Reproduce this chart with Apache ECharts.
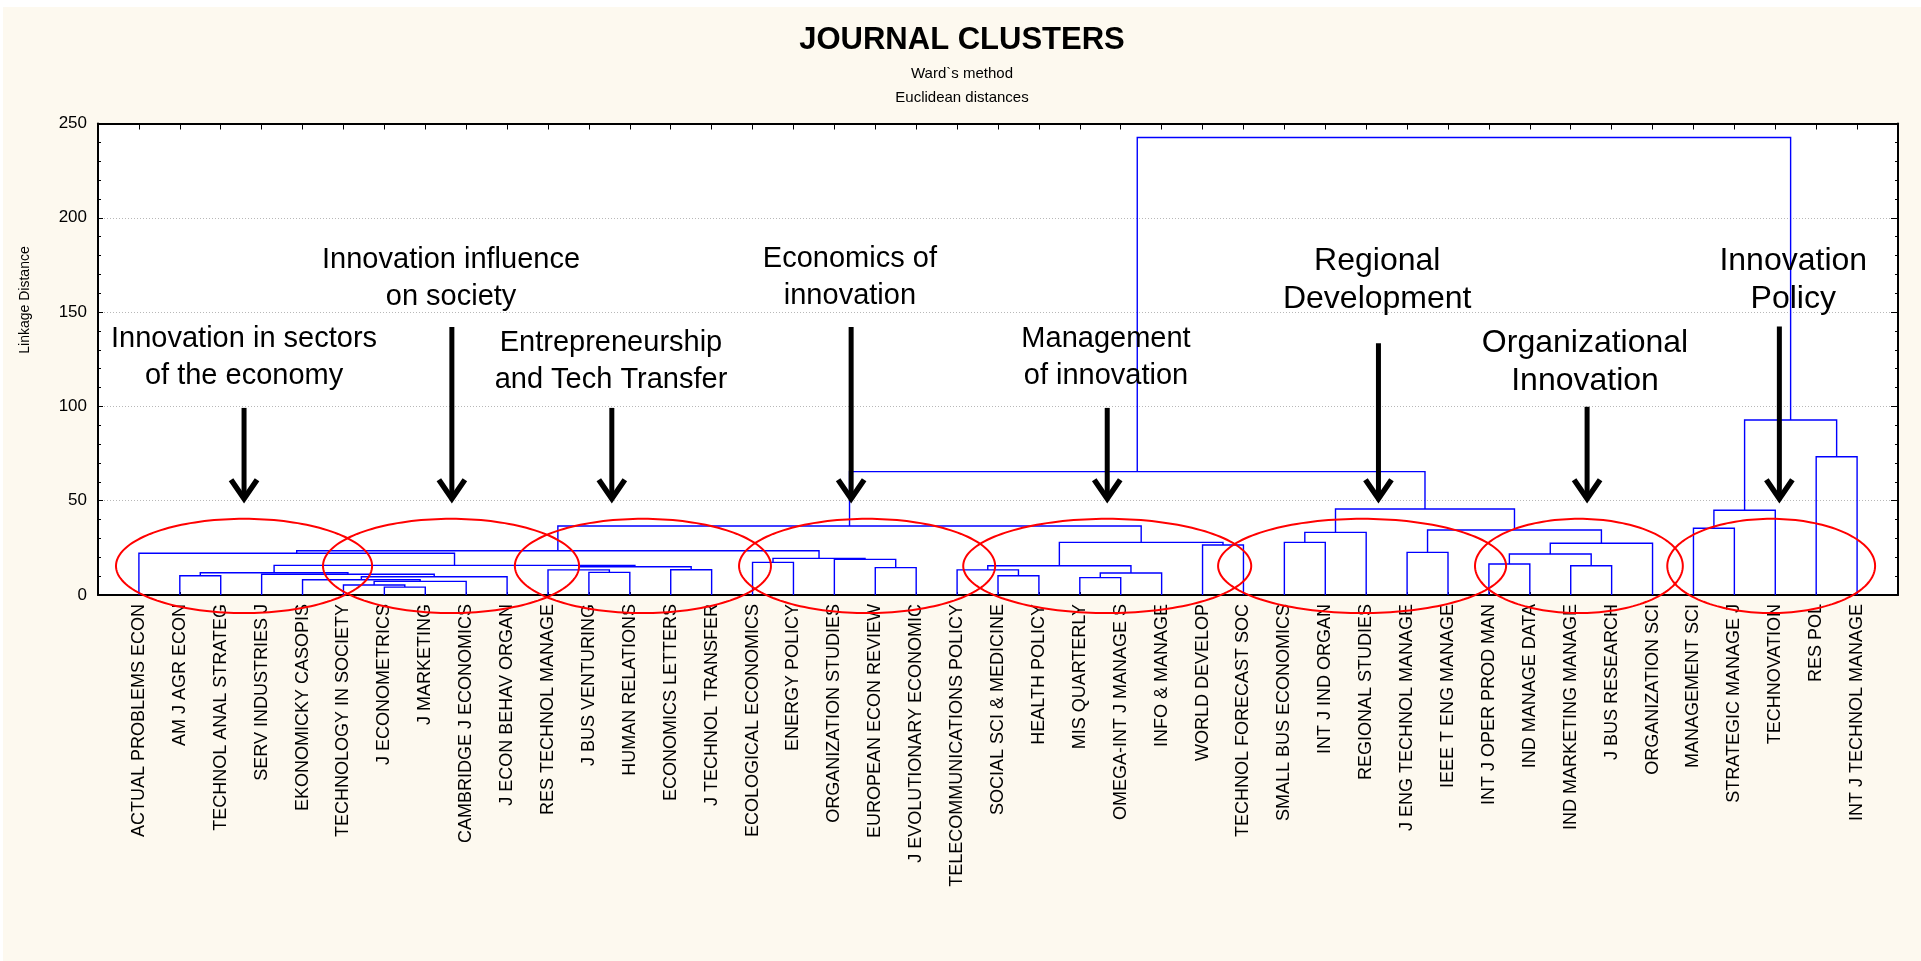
<!DOCTYPE html>
<html>
<head>
<meta charset="utf-8">
<title>Journal clusters</title>
<script src="https://cdn.jsdelivr.net/npm/echarts@6/dist/echarts.min.js"></script>
<style>
  html, body { margin: 0; background: #fff; }
  #main { position: absolute; left: 3px; top: 7px; width: 1918px; height: 954px; background: #fdf9ef; }
</style>
</head>
<body>
<div id="main"></div>
<script>
// journals, in dendrogram leaf order
const leaves = [
  'ACTUAL PROBLEMS ECON', 'AM J AGR ECON', 'TECHNOL ANAL STRATEG', 'SERV INDUSTRIES J',
  'EKONOMICKY CASOPIS', 'TECHNOLOGY IN SOCIETY', 'J ECONOMETRICS', 'J MARKETING',
  'CAMBRIDGE J ECONOMICS', 'J ECON BEHAV ORGAN', 'RES TECHNOL MANAGE', 'J BUS VENTURING',
  'HUMAN RELATIONS', 'ECONOMICS LETTERS', 'J TECHNOL TRANSFER', 'ECOLOGICAL ECONOMICS',
  'ENERGY POLICY', 'ORGANIZATION STUDIES', 'EUROPEAN ECON REVIEW', 'J EVOLUTIONARY ECONOMIC',
  'TELECOMMUNICATIONS POLICY', 'SOCIAL SCI & MEDICINE', 'HEALTH POLICY', 'MIS QUARTERLY',
  'OMEGA-INT J MANAGE S', 'INFO & MANAGE', 'WORLD DEVELOP', 'TECHNOL FORECAST SOC',
  'SMALL BUS ECONOMICS', 'INT J IND ORGAN', 'REGIONAL STUDIES', 'J ENG TECHNOL MANAGE',
  'IEEE T ENG MANAGE', 'INT J OPER PROD MAN', 'IND MANAGE DATA', 'IND MARKETING MANAGE',
  'J BUS RESEARCH', 'ORGANIZATION SCI', 'MANAGEMENT SCI', 'STRATEGIC MANAGE J',
  'TECHNOVATION', 'RES POL', 'INT J TECHNOL MANAGE'
];

// linkage table [a, b, distance]; ids >= 43 point to earlier rows (43 = first row)
const merges = [
  [6, 7, 4.2], [5, 43, 5.3], [44, 8, 7.2], [4, 45, 8.1], [46, 9, 9.7],
  [3, 47, 11.0], [1, 2, 10.2], [49, 48, 11.8], [11, 12, 12.0], [10, 51, 13.3],
  [13, 14, 13.4], [52, 53, 15.0], [50, 54, 15.7], [0, 55, 22.1], [15, 16, 17.3],
  [18, 19, 14.5], [17, 58, 18.9], [57, 59, 19.4], [56, 60, 23.5], [21, 22, 10.2],
  [20, 62, 13.3], [23, 24, 9.2], [64, 25, 11.7], [63, 65, 15.5], [26, 27, 26.5],
  [66, 67, 27.9], [61, 68, 36.6], [28, 29, 27.9], [70, 30, 33.2], [31, 32, 22.6],
  [33, 34, 16.4], [35, 36, 15.5], [73, 74, 21.7], [75, 37, 27.4], [72, 76, 34.5],
  [71, 77, 45.6], [69, 78, 65.4], [38, 39, 35.4], [80, 40, 44.9], [41, 42, 73.3],
  [81, 82, 92.8], [79, 83, 242.6]
];

// cluster annotations (x in leaf positions, y in linkage distance)
const groupNames = [
  'Innovation in sectors\nof the economy', 'Innovation influence\non society',
  'Entrepreneurship\nand Tech Transfer', 'Economics of\ninnovation',
  'Management\nof innovation', 'Regional\nDevelopment',
  'Organizational\nInnovation', 'Innovation\nPolicy'
];
const nameX = [2.57, 7.63, 11.54, 17.38, 23.64, 30.27, 35.35, 40.44];
const nameY = [125.9, 167.8, 123.8, 168.3, 125.9, 166.8, 123.5, 166.8];
const arrowX = [2.57, 7.65, 11.56, 17.41, 23.67, 30.3, 35.4, 40.1];
const arrowTop = [99.2, 142.1, 99.2, 142.1, 99.2, 133.5, 99.8, 142.3];
const arrowTip = 50;
const ringX = [2.57, 7.63, 12.32, 17.8, 23.67, 29.9, 35.2, 39.9];
const ringW = [3.13, 3.13, 3.13, 3.13, 3.52, 3.52, 2.54, 2.54];
const ringY = 15.4;
const ringH = 25;

const font = '"Liberation Sans", Arial, sans-serif';

let nodeX = leaves.map((_, i) => i);
let nodeH = leaves.map(() => 0);
let treeRows = merges.map(([a, b, h]) => {
  let row = [nodeX[a], nodeH[a], nodeX[b], nodeH[b], h];
  nodeX.push((nodeX[a] + nodeX[b]) / 2);
  nodeH.push(h);
  return row;
});

let chart = echarts.init(document.getElementById('main'));

let option = {
  backgroundColor: '#fdf9ef',
  animation: false,
  title: [
    { text: 'JOURNAL CLUSTERS', left: 'center', top: 18, padding: 0,
      textStyle: { fontFamily: font, fontSize: 31, fontWeight: 'bold', lineHeight: 31, color: '#000' } },
    { text: 'Ward`s method', left: 'center', top: 59, padding: 0,
      textStyle: { fontFamily: font, fontSize: 15, fontWeight: 'normal', lineHeight: 15, color: '#000' } },
    { text: 'Euclidean distances', left: 'center', top: 83, padding: 0,
      textStyle: { fontFamily: font, fontSize: 15, fontWeight: 'normal', lineHeight: 15, color: '#000' } }
  ],
  graphic: [{
    type: 'text', x: 22, y: 293, rotation: Math.PI / 2,
    style: { text: 'Linkage Distance', font: '14px ' + font, fill: '#000',
      textAlign: 'center', textVerticalAlign: 'middle' }
  }],
  grid: { left: 95, right: 23, top: 116.5, bottom: 366, show: true,
    backgroundColor: '#fff', borderWidth: 0 },
  xAxis: [
    { type: 'value', min: -1, max: 43, interval: 1, position: 'bottom',
      axisLine: { onZero: false, lineStyle: { color: '#000', width: 2 } },
      axisTick: { inside: true, length: 3, lineStyle: { color: '#000' } },
      axisLabel: { rotate: 90, margin: 9, fontFamily: font, fontSize: 18, color: '#000',
        formatter: v => leaves[v] || '' },
      splitLine: { show: false } },
    { type: 'value', min: -1, max: 43, interval: 1, position: 'top',
      axisLine: { onZero: false, lineStyle: { color: '#000', width: 2 } },
      axisTick: { inside: true, length: 6, lineStyle: { color: '#000' } },
      axisLabel: { show: false }, splitLine: { show: false } }
  ],
  yAxis: [
    { type: 'value', min: 0, max: 250, interval: 50, position: 'left',
      axisLine: { show: true, onZero: false, lineStyle: { color: '#000', width: 2 } },
      axisTick: { show: true, inside: true, length: 5, lineStyle: { color: '#000' } },
      minorTick: { show: true, splitNumber: 5, length: 3, lineStyle: { color: '#000' } },
      axisLabel: { margin: 11, fontFamily: font, fontSize: 17, color: '#000' },
      splitLine: { show: true, lineStyle: { color: '#b8b8b8', type: [1, 2], width: 1 } } },
    { type: 'value', min: 0, max: 250, interval: 50, position: 'right',
      axisLine: { show: true, onZero: false, lineStyle: { color: '#000', width: 2 } },
      axisTick: { show: true, inside: true, length: 7, lineStyle: { color: '#000' } },
      minorTick: { show: true, splitNumber: 5, length: 3, lineStyle: { color: '#000' } },
      axisLabel: { show: false }, splitLine: { show: false } }
  ],
  series: [
    {
      type: 'custom', name: 'tree', silent: true, clip: false, z: 2,
      encode: { x: [0, 2], y: [1, 3, 4] },
      data: treeRows,
      renderItem: (params, api) => {
        let p1 = api.coord([api.value(0), api.value(1)]);
        let p2 = api.coord([api.value(0), api.value(4)]);
        let p3 = api.coord([api.value(2), api.value(4)]);
        let p4 = api.coord([api.value(2), api.value(3)]);
        return { type: 'polyline', shape: { points: [p1, p2, p3, p4] },
          style: { stroke: '#0000ff', lineWidth: 1.4, fill: null } };
      }
    },
    {
      type: 'custom', name: 'rings', silent: true, clip: false, z: 3,
      encode: { x: 0, y: 1 },
      data: ringX.map((x, i) => [x, ringY, ringW[i], ringH]),
      renderItem: (params, api) => {
        let c = api.coord([api.value(0), api.value(1)]);
        let s = api.size([api.value(2), api.value(3)]);
        let pts = [];
        for (let k = 0; k < 160; k++) {
          let t = k / 160 * Math.PI * 2;
          pts.push([c[0] + s[0] * Math.cos(t), c[1] + s[1] * Math.sin(t)]);
        }
        return { type: 'polygon', shape: { points: pts },
          style: { stroke: '#ff0000', lineWidth: 2, fill: null } };
      }
    },
    {
      type: 'custom', name: 'arrows', silent: true, clip: false, z: 4,
      encode: { x: 0, y: [1, 2] },
      data: arrowX.map((x, i) => [x, arrowTop[i], arrowTip]),
      renderItem: (params, api) => {
        let top = api.coord([api.value(0), api.value(1)]);
        let tip = api.coord([api.value(0), api.value(2)]);
        return { type: 'group', children: [
          { type: 'line', shape: { x1: top[0], y1: top[1], x2: tip[0], y2: tip[1] - 4 },
            style: { stroke: '#000', lineWidth: 5 } },
          { type: 'polyline', shape: { points: [[tip[0] - 13, tip[1] - 21], [tip[0], tip[1] - 2], [tip[0] + 13, tip[1] - 21]] },
            style: { stroke: '#000', lineWidth: 5.5, fill: null, lineJoin: 'miter' } }
        ] };
      }
    },
    {
      type: 'custom', name: 'names', silent: true, clip: false, z: 5,
      encode: { x: 0, y: 1 },
      data: nameX.map((x, i) => [x, nameY[i]]),
      renderItem: (params, api) => {
        let p = api.coord([api.value(0), api.value(1)]);
        let big = params.dataIndex >= 5;
        return { type: 'text', x: p[0], y: p[1],
          style: { text: groupNames[params.dataIndex], fill: '#000',
            font: (big ? 32 : 29) + 'px ' + font, lineHeight: big ? 38 : 37,
            textAlign: 'center', textVerticalAlign: 'middle' } };
      }
    }
  ]
};

option && chart.setOption(option);
</script>
</body>
</html>
